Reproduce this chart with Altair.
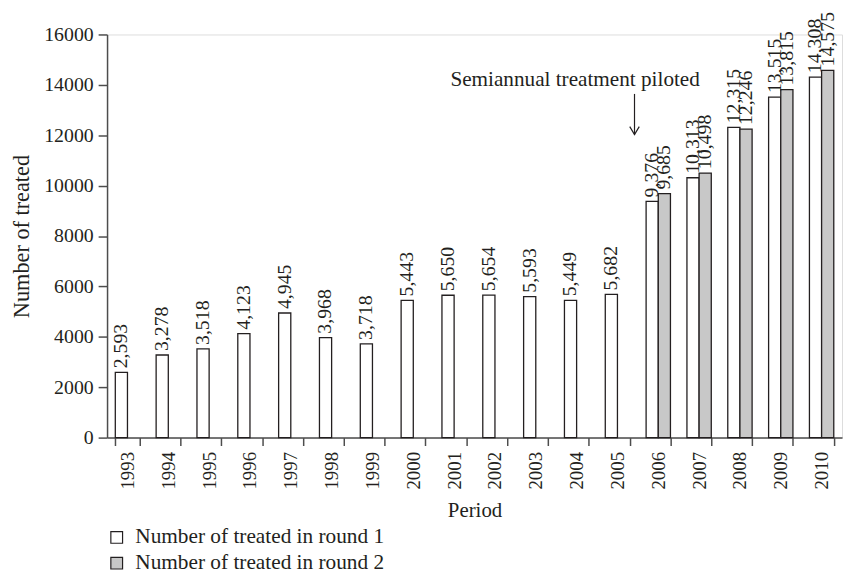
import altair as alt
import pandas as pd

# ---- data ----
years = [str(y) for y in range(1993, 2011)]
round1 = [2593, 3278, 3518, 4123, 4945, 3968, 3718, 5443, 5650, 5654,
          5593, 5449, 5682, 9376, 10313, 12315, 13515, 14308]
round2 = [None] * 13 + [9685, 10498, 12246, 13815, 14575]
series_names = ["Number of treated in round 1", "Number of treated in round 2"]
fills = ["#ffffff", "#c8c8c8"]
y_ticks = [0, 2000, 4000, 6000, 8000, 10000, 12000, 14000, 16000]

annot_label = ["Semiannual treatment piloted"]
annot_period = ["2006"]
annot_text_y = [13950]
arrow_top = [13640]
arrow_tip = [12030]

rows = []
for i, yr in enumerate(years):
    rows.append({"period": yr, "round": series_names[0], "value": round1[i]})
    if round2[i] is not None:
        rows.append({"period": yr, "round": series_names[1], "value": round2[i]})
df = pd.DataFrame(rows)

ann = pd.DataFrame({"period": annot_period, "ty": annot_text_y, "label": annot_label,
                    "a1": arrow_top, "a2": arrow_tip})

FONT = "Liberation Serif"
TXT = "#231f20"
AX = "#4d4d4d"

x_enc = alt.X(
    "period:N", title="Period", sort=years,
    scale=alt.Scale(domain=years, paddingInner=0.404, paddingOuter=0.202),
    axis=alt.Axis(labelAngle=270, tickBand="extent", tickSize=8, labelPadding=6,
                  labelFont=FONT, labelFontSize=19, labelColor=TXT,
                  titleFont=FONT, titleFontSize=21, titleFontWeight="normal", titleColor=TXT,
                  titlePadding=11, domainColor=AX, domainWidth=1.5, tickColor=AX, tickWidth=1.5),
)
y_scale = alt.Scale(domain=[0, 16000], nice=False)
y_enc = alt.Y(
    "value:Q", title="Number of treated", scale=y_scale,
    axis=alt.Axis(values=y_ticks, format="d", grid=False, tickSize=9, labelPadding=5,
                  labelFont=FONT, labelFontSize=20, labelColor=TXT,
                  titleFont=FONT, titleFontSize=22.5, titleFontWeight="normal", titleColor=TXT,
                  titlePadding=10, domainColor=AX, domainWidth=1.5, tickColor=AX, tickWidth=1.5),
)
xoff = alt.XOffset("round:N", scale=alt.Scale(domain=series_names, paddingInner=0, paddingOuter=0))

base = alt.Chart(df).encode(x=x_enc, xOffset=xoff)

bars = base.mark_bar(stroke=TXT, strokeWidth=1.3).encode(
    y=y_enc,
    fill=alt.Fill("round:N", scale=alt.Scale(domain=series_names, range=fills),
                  legend=alt.Legend(title=None, orient="none", legendX=-1, legendY=497,
                                    symbolType="square", symbolSize=140,
                                    symbolStrokeColor=TXT, symbolStrokeWidth=1.2,
                                    labelFont=FONT, labelFontSize=21.5, labelColor=TXT,
                                    labelOffset=8, labelLimit=0, rowPadding=3, padding=0)),
)

labels = base.mark_text(angle=270, align="left", baseline="middle", dx=4,
                        font=FONT, fontSize=20, color=TXT).encode(
    y=alt.Y("value:Q", scale=y_scale),
    text=alt.Text("value:Q", format=","),
)

ann_base = alt.Chart(ann).encode(x=alt.X("period:N", sort=years))

ann_text = ann_base.mark_text(align="right", baseline="alphabetic", dx=42,
                              font=FONT, fontSize=21.4, color=TXT).encode(
    y=alt.Y("ty:Q", scale=y_scale), text="label:N")

arrow = ann_base.mark_rule(xOffset=-24, color=TXT, strokeWidth=1.2).encode(
    y=alt.Y("a1:Q", scale=y_scale), y2="a2:Q")

head = ann_base.mark_point(shape="M -0.6 -1 L 0 0 L 0.6 -1", size=256, filled=False,
                           xOffset=-24, color=TXT, strokeWidth=1.2, opacity=1).encode(
    y=alt.Y("a2:Q", scale=y_scale))

chart = alt.layer(bars, labels, ann_text, arrow, head).properties(
    width=742, height=407,
    autosize=alt.AutoSizeParams(type="none"),
    padding={"left": 100, "top": 24, "right": 2, "bottom": 138},
).configure_view(stroke=None).configure(background="white")

chart.save("out.html", embed_options={"renderer": "svg", "actions": False})
